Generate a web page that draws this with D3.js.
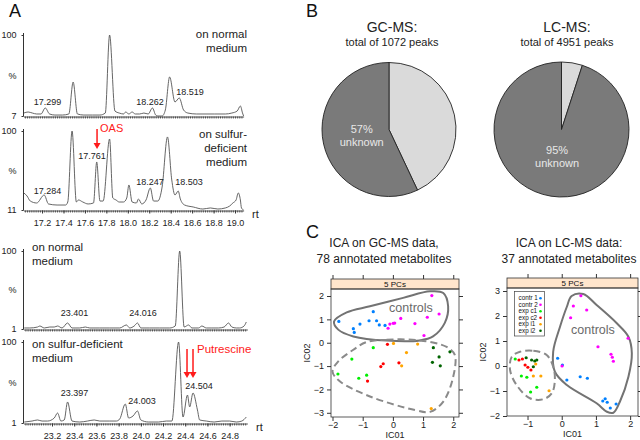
<!DOCTYPE html>
<html><head><meta charset="utf-8">
<script src="https://cdn.jsdelivr.net/npm/d3@7"></script>
<style>body{margin:0;background:#fff}svg{font-family:"Liberation Sans",Arial,Helvetica,sans-serif}</style>
</head><body><svg id="c" width="640" height="440"></svg>
<script>
// ---------------- Panel A: chromatogram traces (rt, % intensity) ----------------
const gcNormalRt = [17.03,17.07,17.11,17.15,17.19,17.23,17.27,17.32,17.39,17.45,17.49,17.53,17.59,17.67,17.74,17.79,17.83,17.88,17.92,17.96,17.98,18.01,18.04,18.07,18.11,18.15,18.19,18.23,18.26,18.28,18.32,18.35,18.39,18.44,18.48,18.52,18.56,18.64,18.72,18.81,18.91,18.97,19.02,19.05,19.07,19.08];
const gcNormalPct = [10.4,11.6,10.4,9.3,9.3,16.2,9.3,8.1,8.1,9.3,46.0,9.3,8.1,8.1,8.1,10.4,100,12.7,10.4,9.3,11.6,9.3,11.6,9.3,9.3,10.4,9.3,16.2,8.1,7,7,13.9,51.8,23.1,27.7,13.9,10.4,9.3,9.3,9.3,9.3,10.4,12.7,18.5,10.4,7];
const gcSulfurRt = [17.03,17.06,17.09,17.15,17.22,17.26,17.34,17.42,17.44,17.48,17.52,17.54,17.58,17.63,17.68,17.71,17.74,17.77,17.83,17.86,17.89,17.92,17.96,17.99,18.01,18.04,18.08,18.10,18.13,18.17,18.21,18.24,18.28,18.32,18.37,18.41,18.44,18.47,18.49,18.53,18.61,18.70,18.77,18.84,18.91,18.95,18.98,19.01,19.03,19.05,19.06,19.08];
const gcSulfurPct = [30.2,26.8,21.1,18.9,27.9,17.8,16.6,16.6,20.0,100,20.0,22.3,20.0,17.8,18.9,65.1,21.1,21.1,91.0,24.5,22.3,20.0,20.0,24.5,39.2,20.0,18.9,23.4,17.8,22.3,35.8,21.1,21.1,36.9,93.3,44.8,27.9,32.4,23.4,16.6,14.4,12.1,13.3,12.1,13.3,15.5,18.9,22.3,30.2,22.3,13.3,11];
const lcNormalRt = [22.95,23.00,23.07,23.09,23.13,23.18,23.22,23.25,23.29,23.34,23.38,23.45,23.50,23.54,23.63,23.72,23.81,23.87,23.90,23.94,23.97,24.00,24.08,24.17,24.26,24.31,24.35,24.39,24.43,24.46,24.52,24.55,24.59,24.64,24.70,24.75,24.79,24.82,24.86,24.89,24.93,24.95];
const lcNormalPct = [2.3,2.3,3.5,4.8,2.3,3.5,3.5,4.8,2.3,8.6,2.3,2.3,3.5,2.3,2.3,2.3,2.3,6.1,2.3,4.8,8.6,2.3,2.3,2.3,2.3,4.8,100,3.5,6.1,2.3,2.3,4.8,2.3,2.3,2.3,3.5,8.6,3.5,2.3,2.3,4.8,9.9];
const lcSulfurRt = [22.95,23.02,23.07,23.11,23.16,23.22,23.25,23.28,23.31,23.34,23.38,23.45,23.52,23.58,23.63,23.72,23.78,23.81,23.86,23.89,23.93,23.97,24.00,24.07,24.16,24.23,24.28,24.34,24.38,24.42,24.44,24.47,24.51,24.53,24.59,24.66,24.73,24.80,24.86,24.91,24.95];
const lcSulfurPct = [2.2,3.4,4.7,3.4,3.4,7.1,13.2,3.4,4.7,26.7,3.4,2.2,3.4,4.7,3.4,3.4,3.4,5.9,24.2,7.1,9.6,15.7,4.7,2.2,2.2,3.4,3.4,100,8.3,35.2,20.6,37.7,16.9,4.7,3.4,2.2,3.4,3.4,2.2,3.4,8.3];
const gcTicks = [17.2,17.4,17.6,17.8,18.0,18.2,18.4,18.6,18.8,19.0];
const lcTicks = [23.2,23.4,23.6,23.8,24.0,24.2,24.4,24.6,24.8];
// peak labels: text, rt, %
const gcNormalPeaks = [["17.299",17.251,19.6],["18.262",18.207,19.6],["18.519",18.581,31.1]];
const gcSulfurPeaks = [["17.284",17.251,29.0],["17.761",17.666,68.5],["18.247",18.207,39.2],["18.503",18.571,39.2]];
const lcNormalPeaks = [["23.401",23.403,17.5],["24.016",24.020,17.5]];
const lcSulfurPeaks = [["23.397",23.403,34.0],["24.003",24.011,24.2],["24.504",24.524,42.5]];
const oasPeakRt = [17.713];
const putrescinePeakRt = [24.416,24.470];

// ---------------- Panel B: pies ----------------
const pieLabels = ["known","unknown"];
const gcPeaks = [43,57];
const lcPeaks = [5,95];

// ---------------- Panel C: ICA scores ----------------
const groups = ["contr 1","contr 2","exp c1","exp c2","exp i1","exp i2"];
const groupColors = ["#0080ff","#ff00ff","#00ee00","#ff0000","#ffa500","#006400"];
const gcContr1 = [[-1.79,0.91],[-1.31,0.60],[-1.28,0.44],[-1.09,0.80],[-0.79,0.94],[-0.65,1.33],[-0.54,0.94],[-0.45,0.76],[-0.26,0.74]];
const gcContr2 = [[-0.16,0.62],[-0.10,0.80],[0.01,0.83],[0.06,0.84],[0.26,1.04],[0.73,0.82],[1.03,0.31],[1.14,1.09],[1.29,2.02],[1.53,1.23]];
const gcExpC1 = [[-0.65,-0.21],[-1.36,-0.70],[-1.82,-1.34],[-1.13,-1.52],[-0.87,-1.39]];
const gcExpC2 = [[-0.18,-0.07],[-0.32,-0.90],[-0.40,-1.02],[0.20,-0.86],[-0.84,-1.64]];
const gcExpI1 = [[0.02,-0.03],[0.45,-0.42],[0.29,-0.99],[0.82,-0.06],[1.27,-2.82]];
const gcExpI2 = [[1.34,-0.21],[1.89,-0.39],[1.53,-0.61],[1.31,-0.84],[1.57,-0.99]];
const lcContr1 = [[-0.12,0.31],[0.02,0.04],[0.15,-0.56],[0.54,-0.43],[0.75,-0.49],[1.20,-1.40],[1.27,-1.31],[1.33,-1.45],[1.42,-1.68],[1.59,-1.52]];
const lcContr2 = [[0.56,2.81],[0.34,2.40],[0.73,2.24],[0.26,1.93],[1.94,1.11],[1.06,0.77],[1.44,0.47],[1.48,0.35],[1.51,0.19],[0.01,0.00]];
const lcExpC1 = [[-1.36,0.28],[-1.18,-0.40],[-1.02,-0.45],[-0.73,-0.85],[-0.91,-1.04]];
const lcExpC2 = [[-1.25,0.24],[-1.15,0.28],[-1.07,0.04],[-0.99,-0.05],[-0.90,-0.16]];
const lcExpI1 = [[-0.76,0.08],[-0.83,-0.40],[-0.61,-0.40],[-0.37,-0.99]];
const lcExpI2 = [[-1.04,0.33],[-0.88,0.24],[-0.79,0.20],[-0.73,0.24],[-0.83,-0.03]];
const gcControlsHull = [[-1.95,0.91],[-1.53,1.30],[-0.76,1.56],[0.34,1.92],[1.23,2.20],[1.67,2.13],[1.83,1.56],[1.72,0.85],[1.33,0.27],[0.89,0.10],[-0.21,0.09],[-1.31,0.27],[-1.81,0.56]];
const gcExpHull = [[-0.87,0.03],[-0.21,0.13],[0.89,0.10],[1.78,-0.18],[2.05,-0.52],[2.00,-1.45],[1.67,-2.52],[1.23,-2.96],[0.73,-2.88],[-0.76,-2.30],[-1.75,-1.66],[-2.00,-1.23],[-1.81,-0.80],[-1.31,-0.30]];
const lcControlsHull = [[0.29,2.80],[0.63,2.88],[1.02,2.44],[1.61,1.71],[1.95,1.17],[2.05,0.51],[1.95,-0.43],[1.70,-1.43],[1.51,-1.87],[1.32,-1.83],[1.02,-1.49],[0.15,-0.76],[-0.20,-0.23],[-0.25,0.57],[-0.05,1.57],[0.15,2.37]];
const lcExpHull = [[-1.22,0.57],[-0.83,0.61],[-0.44,0.44],[-0.25,-0.03],[-0.20,-0.56],[-0.29,-1.09],[-0.54,-1.33],[-0.93,-1.29],[-1.32,-0.76],[-1.51,-0.16],[-1.46,0.37]];
const gcXTicks = [-2,-1,0,1,2], gcYTicks = [-3,-2,-1,0,1,2];
const lcXTicks = [-1,0,1,2], lcYTicks = [-2,-1,0,1,2,3];

// ================= drawing =================
const svg = d3.select("#c");
const RED = "#ff1a1a";
function txt(g, x, y, s, size, opt = {}) {
  return g.append("text").attr("x", x).attr("y", y).text(s)
    .attr("font-size", size).attr("fill", opt.fill || "#111")
    .attr("text-anchor", opt.anchor || "start");
}
function arrow(g, x, y0, y1) {
  g.append("line").attr("x1", x).attr("x2", x).attr("y1", y0).attr("y2", y1 - 5)
    .attr("stroke", RED).attr("stroke-width", 1.5);
  g.append("path").attr("d", `M${x-3.5},${y1-6}L${x+3.5},${y1-6}L${x},${y1}Z`).attr("fill", RED);
}

function chrom(o) {
  const g = svg.append("g");
  const x = d3.scaleLinear().domain(o.xDom).range(o.xRange);
  const y = d3.scaleLinear().domain(o.yDom).range(o.yRange);
  const base = o.yRange[0];
  const step = 0.02;
  const minor = d3.range(Math.ceil(o.xDom[0] / step) * step, o.xDom[1], step);
  const xa = g.append("g").attr("transform", `translate(0,${base + 0.5})`)
    .call(d3.axisBottom(x).tickValues(minor).tickSize(2).tickFormat("").tickSizeOuter(0));
  xa.selectAll("path,line").attr("stroke", "#333").attr("stroke-width", 0.8);
  if (o.ticks) {
    const xb = g.append("g").attr("transform", `translate(0,${base + 0.5})`)
      .call(d3.axisBottom(x).tickValues(o.ticks).tickSize(3).tickPadding(6).tickFormat(d3.format(".1f")).tickSizeOuter(0));
    xb.select(".domain").remove();
    xb.selectAll("line").attr("stroke", "#333");
    xb.selectAll("text").attr("font-size", 9).attr("fill", "#222").attr("font-family", null);
    txt(g, o.rtX, base + 8, "rt", 11, { fill: "#222" });
  }
  const ya = g.append("g").attr("transform", `translate(${o.xRange[0]},0)`)
    .call(d3.axisLeft(y).tickValues([o.yDom[0], 100]).tickSize(2).tickPadding(5).tickSizeOuter(0));
  ya.select(".domain").attr("stroke", "#333").attr("d", `M0,${base + 0.5}V${y(100) - 2}`);
  ya.selectAll("line").attr("stroke", "#333");
  ya.selectAll("text").attr("font-size", 9).attr("fill", "#222").attr("font-family", null);
  txt(g, o.xRange[0] - 7, (y(100) + base) / 2 + 3, "%", 9, { anchor: "end", fill: "#222" });
  const line = d3.line().x(d => x(d[0])).y(d => y(d[1])).curve(d3.curveMonotoneX);
  const pts = o.rt.map((r, i) => [r, o.pct[i]]);
  g.append("path").attr("d", line(pts)).attr("fill", "none").attr("stroke", "#555").attr("stroke-width", 0.9);
  o.peaks.forEach(p => txt(g, x(p[1]), y(p[2]), p[0], 9, { anchor: "middle", fill: "#222" }));
  o.cond.forEach(c => txt(g, c[0], c[1], c[2], 11.5, { anchor: c[3] || "start", fill: "#222" }));
  return { g, x, y };
}

txt(svg, 9, 17, "A", 18, { fill: "#111" });
const gcXRange = [23.5, 243.6], gcXDom = [17.027, 19.08];
const lcXRange = [23.5, 247.4], lcXDom = [22.943, 24.96];
chrom({ xDom: gcXDom, xRange: gcXRange, yDom: [7, 100], yRange: [116, 35], rt: gcNormalRt, pct: gcNormalPct,
  peaks: gcNormalPeaks, cond: [[247, 38, "on normal", "end"], [247, 52, "medium", "end"]] });
const c2 = chrom({ xDom: gcXDom, xRange: gcXRange, yDom: [11, 100], yRange: [210, 131], rt: gcSulfurRt, pct: gcSulfurPct,
  peaks: gcSulfurPeaks, ticks: gcTicks, rtX: 252,
  cond: [[247, 138, "on sulfur-", "end"], [247, 152, "deficient", "end"], [247, 166, "medium", "end"]] });
txt(c2.g, 100, 132, "OAS", 11, { fill: RED });
arrow(c2.g, c2.x(oasPeakRt[0]), 129, 149);
chrom({ xDom: lcXDom, xRange: lcXRange, yDom: [1, 100], yRange: [329, 251], rt: lcNormalRt, pct: lcNormalPct,
  peaks: lcNormalPeaks, cond: [[32, 251, "on normal"], [32, 265, "medium"]] });
const c4 = chrom({ xDom: lcXDom, xRange: lcXRange, yDom: [1, 100], yRange: [423, 342], rt: lcSulfurRt, pct: lcSulfurPct,
  peaks: lcSulfurPeaks, ticks: lcTicks, rtX: 256,
  cond: [[32, 348, "on sulfur-deficient"], [32, 362, "medium"]] });
txt(c4.g, 197, 353, "Putrescine", 11.5, { fill: RED });
putrescinePeakRt.forEach(r => arrow(c4.g, c4.x(r), 349, 378));

// ---------------- Panel B ----------------
txt(svg, 306, 17, "B", 18);
function pieChart(cx, cy, r, vals, title, sub, tx) {
  const g = svg.append("g").attr("transform", `translate(${cx},${cy})`);
  const arcs = d3.pie().sort(null)(vals);
  const arc = d3.arc().innerRadius(0).outerRadius(r);
  const cols = ["#dadada", "#7a7a7a"];
  g.selectAll("path").data(arcs).join("path").attr("d", arc)
    .attr("fill", (d, i) => cols[i]).attr("stroke", "#222").attr("stroke-width", 0.9);
  const lab = d3.arc().innerRadius(0).outerRadius(56).centroid(arcs[1]);
  txt(g, lab[0], lab[1] - 3, Math.round(vals[1]) + "%", 11, { anchor: "middle", fill: "#e8e8e8" });
  txt(g, lab[0], lab[1] + 10, pieLabels[1], 11, { anchor: "middle", fill: "#e8e8e8" });
  txt(svg, tx, 32, title, 14, { anchor: "middle", fill: "#222" });
  txt(svg, tx, 46, sub, 11, { anchor: "middle", fill: "#222" });
}
pieChart(389, 129.5, 67, gcPeaks, "GC-MS:", "total of 1072 peaks", 392);
pieChart(561.5, 129.5, 67.5, lcPeaks, "LC-MS:", "total of 4951 peaks", 567);

// ---------------- Panel C ----------------
txt(svg, 306, 238, "C", 18);
function ica(o) {
  const g = svg.append("g");
  const x = d3.scaleLinear().domain(o.xDom).range([o.left, o.right]);
  const y = d3.scaleLinear().domain(o.yDom).range([o.bottom, o.top]);
  const st = o.top - 10;
  g.append("rect").attr("x", o.left).attr("y", st).attr("width", o.right - o.left).attr("height", 10)
    .attr("fill", "#ffe5cc").attr("stroke", "#333").attr("stroke-width", 0.8);
  txt(g, (o.left + o.right) / 2, st + 8, "5 PCs", 8, { anchor: "middle", fill: "#111" });
  g.append("rect").attr("x", o.left).attr("y", o.top).attr("width", o.right - o.left).attr("height", o.bottom - o.top)
    .attr("fill", "none").attr("stroke", "#333").attr("stroke-width", 0.8);
  const fmt = d3.format("d");
  const style = (a, lab) => {
    a.select(".domain").remove();
    a.selectAll("line").attr("stroke", "#333");
    a.selectAll("text").attr("font-size", 9).attr("fill", "#222").attr("font-family", null);
    if (!lab) a.selectAll("text").remove();
  };
  style(g.append("g").attr("transform", `translate(${o.left},0)`).call(d3.axisLeft(y).tickValues(o.yTicks).tickFormat(fmt).tickSize(4).tickPadding(3)), true);
  style(g.append("g").attr("transform", `translate(${o.right},0)`).call(d3.axisRight(y).tickValues(o.yTicks).tickSize(4)), false);
  style(g.append("g").attr("transform", `translate(0,${o.bottom})`).call(d3.axisBottom(x).tickValues(o.xTicks).tickFormat(fmt).tickSize(4).tickPadding(1)), true);
  style(g.append("g").attr("transform", `translate(0,${st})`).call(d3.axisTop(x).tickValues(o.xTicks).tickSize(4)), false);
  txt(g, (o.left + o.right) / 2, o.bottom + 21, "IC01", 9, { anchor: "middle", fill: "#222" });
  g.append("text").attr("transform", `translate(${o.left - 21},${(o.top + o.bottom) / 2}) rotate(-90)`)
    .attr("text-anchor", "middle").attr("font-size", 9).attr("fill", "#222").text("IC02");
  const hull = d3.line().x(d => x(d[0])).y(d => y(d[1])).curve(d3.curveCatmullRomClosed.alpha(0.5));
  g.append("path").attr("d", hull(o.ctrlHull)).attr("fill", "none").attr("stroke", "#737373").attr("stroke-width", 2);
  g.append("path").attr("d", hull(o.expHull)).attr("fill", "none").attr("stroke", "#8a8a8a").attr("stroke-width", 2).attr("stroke-dasharray", "7,4");
  txt(g, o.ctrlText[0], o.ctrlText[1], "controls", 12.5, { fill: "#6a6a6a" });
  o.sets.forEach((s, i) => {
    g.selectAll(null).data(s).join("circle").attr("cx", d => x(d[0])).attr("cy", d => y(d[1]))
      .attr("r", 1.6).attr("fill", groupColors[i]);
  });
  txt(svg, o.tx, 247, o.t1, 12, { anchor: "middle", fill: "#222" });
  txt(svg, o.tx, 263, o.t2, 12, { anchor: "middle", fill: "#222" });
  return g;
}
ica({ left: 331, right: 459, top: 289, bottom: 417, xDom: [-2.05, 2.19], yDom: [-3.18, 2.3],
  xTicks: gcXTicks, yTicks: gcYTicks, ctrlHull: gcControlsHull, expHull: gcExpHull, ctrlText: [389, 312],
  sets: [gcContr1, gcContr2, gcExpC1, gcExpC2, gcExpI1, gcExpI2], tx: 384,
  t1: "ICA on GC-MS data,", t2: "78 annotated metabolites" });
const lcG = ica({ left: 507, right: 638, top: 288, bottom: 416, xDom: [-1.6, 2.23], yDom: [-2.0, 3.12],
  xTicks: lcXTicks, yTicks: lcYTicks, ctrlHull: lcControlsHull, expHull: lcExpHull, ctrlText: [571, 334],
  sets: [lcContr1, lcContr2, lcExpC1, lcExpC2, lcExpI1, lcExpI2], tx: 569,
  t1: "ICA on LC-MS data:", t2: "37 annotated metabolites" });
const lg = lcG.append("g").attr("transform", "translate(514.5,291.5)");
lg.append("rect").attr("width", 30).attr("height", 44.5).attr("fill", "#fff").attr("stroke", "#444").attr("stroke-width", 0.7);
groups.forEach((name, i) => {
  txt(lg, 4, 8.7 + i * 6.5, name, 6.3, { fill: "#111" });
  lg.append("circle").attr("cx", 26).attr("cy", 6.7 + i * 6.5).attr("r", 1.3).attr("fill", groupColors[i]);
});
</script></body></html>
